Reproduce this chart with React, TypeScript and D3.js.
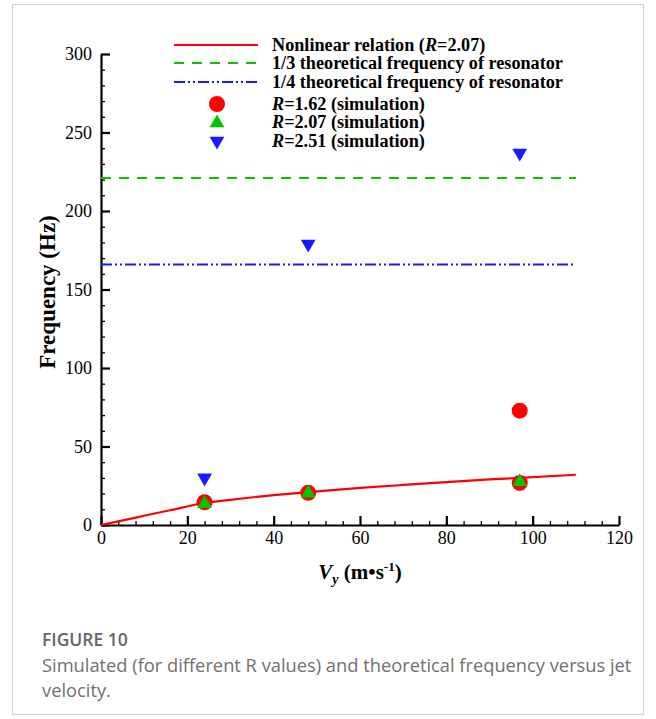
import * as d3 from 'd3';
import React, { useEffect, useRef } from 'react';

// nonlinear relation (R=2.07)
const curveV = [0, 8, 16, 24, 30, 40, 48, 60, 70, 80, 90, 97, 110];
const curveF = [0, 4.7, 9.4, 14, 16, 19, 21, 23.6, 25.5, 27.3, 29, 30, 32];

// simulation points
const r162V = [24, 48, 97, 97];
const r162F = [14.5, 20.5, 26.8, 72.8];
const r207V = [24, 48, 97];
const r207F = [14.2, 20.8, 28.2];
const r251V = [24, 48, 97];
const r251F = [30, 179, 237];

// theoretical resonator frequencies
const third = 221;
const quarter = 166;
const lineEnd = 110;

const xTicks = [0, 20, 40, 60, 80, 100, 120];
const yTicks = [0, 50, 100, 150, 200, 250, 300];

const legendLabels = [
  ['Nonlinear relation (', 'R', '=2.07)'],
  ['1/3 theoretical frequency of resonator'],
  ['1/4 theoretical frequency of resonator'],
  ['', 'R', '=1.62 (simulation)'],
  ['', 'R', '=2.07 (simulation)'],
  ['', 'R', '=2.51 (simulation)'],
];

const RED = '#ff0000';
const GREEN = '#00c800';
const BLUE = '#1a1aff';
const serif = 'Liberation Serif';

export default function App() {
  const svgRef = useRef<SVGSVGElement | null>(null);

  useEffect(() => {
    if (!svgRef.current) return;
    const svg = d3.select(svgRef.current);
    svg.selectAll('*').remove();

    const x = d3.scaleLinear().domain([0, 120]).range([101, 619]);
    const y = d3.scaleLinear().domain([0, 300]).range([525, 54]);

    // frame
    svg.append('rect')
      .attr('x', 12.5).attr('y', 4.5)
      .attr('width', 631).attr('height', 710)
      .attr('fill', 'white')
      .attr('stroke', '#cfcfcf');

    // minor ticks
    const minorY = d3.range(0, 301, 10).filter(v => v % 50 !== 0);
    const minorX = d3.range(0, 121, 4).filter(v => v % 20 !== 0);

    svg.append('g')
      .attr('transform', `translate(${x(0)},0)`)
      .call(d3.axisLeft(y).tickValues(minorY).tickSizeInner(-4).tickSizeOuter(0).tickFormat(() => ''))
      .call(g => g.select('.domain').remove())
      .selectAll('line').attr('stroke', '#000').attr('stroke-width', 1.3);

    svg.append('g')
      .attr('transform', `translate(0,${y(0)})`)
      .call(d3.axisBottom(x).tickValues(minorX).tickSizeInner(-4).tickSizeOuter(0).tickFormat(() => ''))
      .call(g => g.select('.domain').remove())
      .selectAll('line').attr('stroke', '#000').attr('stroke-width', 1.3);

    // major axes
    const yAxis = svg.append('g')
      .attr('transform', `translate(${x(0)},0)`)
      .call(d3.axisLeft(y).tickValues(yTicks).tickSizeInner(-9).tickSizeOuter(0).tickPadding(9).tickFormat(d3.format('d')));
    const xAxis = svg.append('g')
      .attr('transform', `translate(0,${y(0)})`)
      .call(d3.axisBottom(x).tickValues(xTicks).tickSizeInner(-9).tickSizeOuter(0).tickPadding(4).tickFormat(d3.format('d')));

    [yAxis, xAxis].forEach(ax => {
      ax.attr('font-family', serif).attr('font-size', 18);
      ax.select('.domain').attr('stroke', '#000').attr('stroke-width', 2.2);
      ax.selectAll('.tick line').attr('stroke', '#000').attr('stroke-width', 2.2);
      ax.selectAll('.tick text').attr('fill', '#000');
    });
    xAxis.selectAll('.tick text').attr('dy', '0.85em');

    // theoretical lines
    svg.append('line')
      .attr('x1', x(0)).attr('x2', x(lineEnd))
      .attr('y1', y(third)).attr('y2', y(third))
      .attr('stroke', GREEN).attr('stroke-width', 2)
      .attr('stroke-dasharray', '10,8');
    svg.append('line')
      .attr('x1', x(0)).attr('x2', x(lineEnd))
      .attr('y1', y(quarter)).attr('y2', y(quarter))
      .attr('stroke', BLUE).attr('stroke-width', 2)
      .attr('stroke-dasharray', '11,3,2,3,2,3');

    // red curve
    const curvePts = curveV.map((v, i) => [v, curveF[i]] as [number, number]);
    const line = d3.line<[number, number]>()
      .x(d => x(d[0]))
      .y(d => y(d[1]))
      .curve(d3.curveMonotoneX);
    svg.append('path')
      .attr('d', line(curvePts))
      .attr('fill', 'none')
      .attr('stroke', RED)
      .attr('stroke-width', 2.2);

    const tri = d3.symbol().type(d3.symbolTriangle).size(95);

    // markers
    svg.append('g').selectAll('circle')
      .data(r162V.map((v, i) => [v, r162F[i]]))
      .join('circle')
      .attr('cx', d => x(d[0])).attr('cy', d => y(d[1]))
      .attr('r', 8).attr('fill', RED);

    svg.append('g').selectAll('path')
      .data(r207V.map((v, i) => [v, r207F[i]]))
      .join('path')
      .attr('d', tri())
      .attr('transform', d => `translate(${x(d[0])},${y(d[1]) + 1})`)
      .attr('fill', GREEN);

    svg.append('g').selectAll('path')
      .data(r251V.map((v, i) => [v, r251F[i]]))
      .join('path')
      .attr('d', tri())
      .attr('transform', d => `translate(${x(d[0])},${y(d[1])}) rotate(180)`)
      .attr('fill', BLUE);

    // legend
    const legY = [45, 63, 82, 104, 122, 141];
    const lg = svg.append('g');
    lg.append('line').attr('x1', 174).attr('x2', 258).attr('y1', legY[0]).attr('y2', legY[0])
      .attr('stroke', RED).attr('stroke-width', 2.2);
    lg.append('line').attr('x1', 174).attr('x2', 258).attr('y1', legY[1]).attr('y2', legY[1])
      .attr('stroke', GREEN).attr('stroke-width', 2).attr('stroke-dasharray', '10,8');
    lg.append('line').attr('x1', 174).attr('x2', 258).attr('y1', legY[2]).attr('y2', legY[2])
      .attr('stroke', BLUE).attr('stroke-width', 2).attr('stroke-dasharray', '11,3,2,3,2,3');
    lg.append('circle').attr('cx', 217).attr('cy', legY[3]).attr('r', 8).attr('fill', RED);
    lg.append('path').attr('d', tri()).attr('transform', `translate(217,${legY[4] + 1})`).attr('fill', GREEN);
    lg.append('path').attr('d', tri()).attr('transform', `translate(217,${legY[5]}) rotate(180)`).attr('fill', BLUE);

    legendLabels.forEach((parts, i) => {
      const t = lg.append('text')
        .attr('x', 272).attr('y', legY[i] + 5.5)
        .attr('font-family', serif)
        .attr('font-size', 18.2)
        .attr('font-weight', 'bold');
      parts.forEach((p, j) => {
        if (!p) return;
        t.append('tspan').text(p).attr('font-style', j === 1 ? 'italic' : 'normal');
      });
    });

    // axis titles
    svg.append('text')
      .attr('transform', `translate(55,292) rotate(-90)`)
      .attr('text-anchor', 'middle')
      .attr('font-family', serif)
      .attr('font-size', 23)
      .attr('font-weight', 'bold')
      .text('Frequency (Hz)');

    const xt = svg.append('text')
      .attr('x', 360).attr('y', 579)
      .attr('text-anchor', 'middle')
      .attr('font-family', serif)
      .attr('font-size', 21)
      .attr('font-weight', 'bold');
    xt.append('tspan').text('V').attr('font-style', 'italic');
    xt.append('tspan').text('y').attr('font-style', 'italic').attr('font-size', 14).attr('dy', 5);
    xt.append('tspan').text(' (m•s').attr('dy', -5);
    xt.append('tspan').text('-1').attr('font-size', 13).attr('dy', -8);
    xt.append('tspan').text(')').attr('dy', 8);

    // caption
    svg.append('text')
      .attr('x', 42).attr('y', 646)
      .attr('fill', '#666')
      .attr('font-family', 'Open Sans')
      .attr('font-size', 17.5)
      .attr('font-weight', 600)
      .text('FIGURE 10');
    ['Simulated (for different R values) and theoretical frequency versus jet', 'velocity.']
      .forEach((s, i) => {
        svg.append('text')
          .attr('x', 42).attr('y', 672 + i * 25)
          .attr('fill', '#707070')
          .attr('font-family', 'Open Sans')
          .attr('font-size', 18.3)
          .text(s);
      });
  }, []);

  return (
    <div style={{ position: 'absolute', left: 0, top: 0 }}>
      <svg ref={svgRef} width={656} height={719} style={{ display: 'block' }} />
    </div>
  );
}
